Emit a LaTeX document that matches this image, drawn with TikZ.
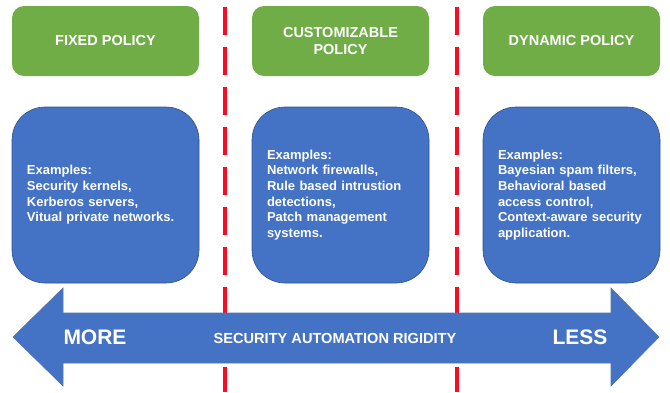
\documentclass[tikz,border=0pt]{standalone}
\usepackage{fontspec}
\setmainfont{Liberation Sans}
\definecolor{pgreen}{HTML}{70AD47}
\definecolor{pblue}{HTML}{4472C4}
\definecolor{pblueedge}{HTML}{2F528F}
\definecolor{pred}{HTML}{FF0A22}
\begin{document}
\begin{tikzpicture}[x=1pt,y=-1pt,
  policy/.style={fill=pgreen, draw=none, rounded corners=12pt, inner sep=0pt,
    minimum height=70pt, text=white, font=\fontsize{14.5}{17.5}\selectfont\bfseries, align=center},
  examples/.style={fill=pblue, draw=pblueedge, line width=0.6pt, rounded corners=33pt,
    inner ysep=0pt, inner xsep=15pt, minimum height=176pt, text=white,
    font=\fontsize{13}{15.6}\selectfont\bfseries, align=left},
  divider/.style={draw=pred, line width=3.5pt, dash pattern=on 28pt off 12pt},
  bigarrow/.style={fill=pblue, draw=pblueedge!80, line width=0.6pt},
  arrowtext/.style={text=white, inner sep=0pt, font=\bfseries}
]
\useasboundingbox (0,0) rectangle (670,392);

% dividers
\coordinate (d1top) at (225,7);
\coordinate (d1bot) at (225,392);
\coordinate (d2top) at (457,7);
\coordinate (d2bot) at (457,392);
\draw[divider] (d1top) -- (d1bot);
\draw[divider] (d2top) -- (d2bot);

% green policy boxes
\node[policy, minimum width=187pt] (fixed) at (105.5,41) {FIXED POLICY};
\node[policy, minimum width=177pt] (custom) at (340.5,41) {CUSTOMIZABLE\\POLICY};
\node[policy, minimum width=177pt] (dynamic) at (571.5,41) {DYNAMIC POLICY};

% blue example boxes
\node[examples, text width=157pt] (ex1) at (105.5,195) {Examples:\\Security kernels,\\Kerberos servers,\\Vitual private networks.};
\node[examples, text width=147pt] (ex2) at (340.5,195) {Examples:\\Network firewalls,\\Rule based intrustion\\detections,\\Patch management\\systems.};
\node[examples, text width=147pt] (ex3) at (571.5,195) {Examples:\\Bayesian spam filters,\\Behavioral based\\access control,\\Context-aware security\\application.};

% double arrow
\draw[bigarrow] (13,337) -- (63,288) -- (63,313) -- (611,313) -- (611,288) -- (659,337)
  -- (611,386) -- (611,363) -- (63,363) -- (63,386) -- cycle;
\node[arrowtext, font=\fontsize{21}{24}\selectfont\bfseries] (more) at (95,337) {MORE};
\node[arrowtext, font=\fontsize{21}{24}\selectfont\bfseries] (less) at (580,337) {LESS};
\node[arrowtext, font=\fontsize{14.6}{17}\selectfont\bfseries] (rigid) at (335,338) {SECURITY AUTOMATION RIGIDITY};
\end{tikzpicture}
\end{document}
